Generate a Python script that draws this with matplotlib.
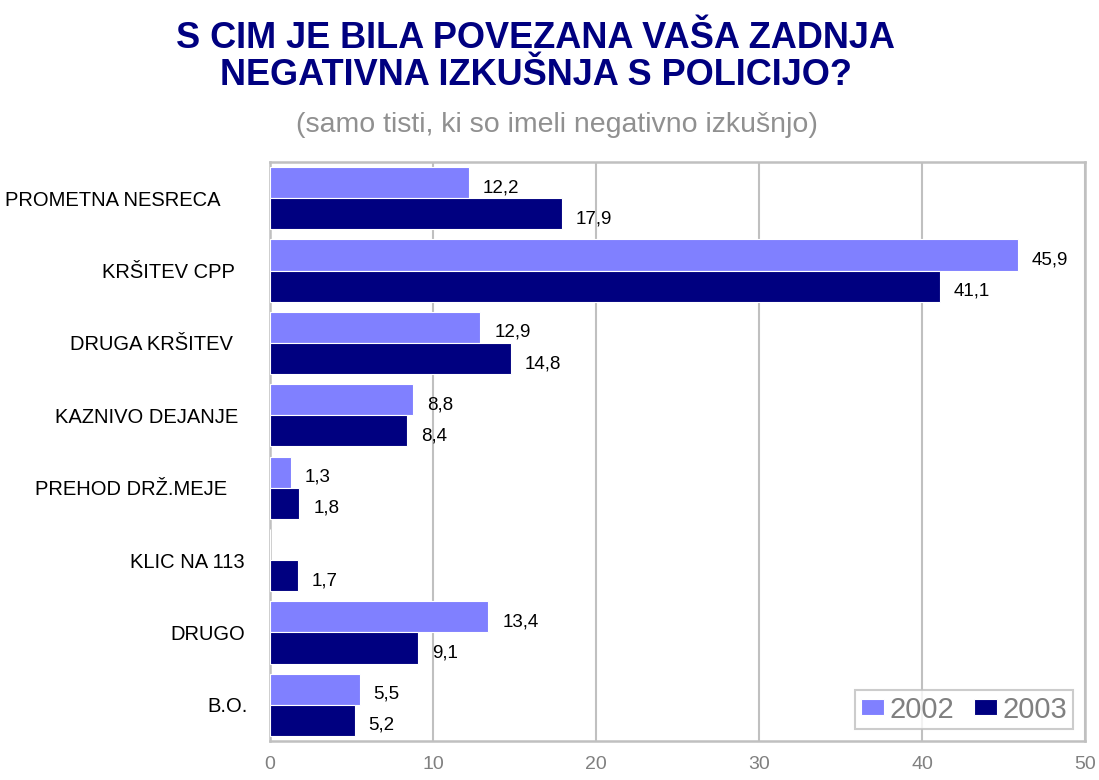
import numpy as np
import matplotlib.pyplot as plt
from matplotlib.transforms import ScaledTranslation

plt.rcParams['font.family'] = ['Liberation Sans', 'DejaVu Sans']

categories = ['PROMETNA NESRECA', 'KRŠITEV CPP', 'DRUGA KRŠITEV', 'KAZNIVO DEJANJE',
              'PREHOD DRŽ.MEJE', 'KLIC NA 113', 'DRUGO', 'B.O.']
values_2002 = [12.2, 45.9, 12.9, 8.8, 1.3, None, 13.4, 5.5]
values_2003 = [17.9, 41.1, 14.8, 8.4, 1.8, 1.7, 9.1, 5.2]
xticks = [0, 10, 20, 30, 40, 50]

# extra left shift of each category label (px), the original labels are not aligned evenly
label_shift = [27, 13, 15, 10, 21, 3, 3, 0]

c2002 = '#8080ff'
c2003 = '#000080'
grey = '#c0c0c0'

fig = plt.figure(figsize=(10.99, 7.8), dpi=100)
ax = fig.add_axes([270 / 1099, 1 - 741 / 780, 815 / 1099, 579 / 780])

y = np.arange(len(categories))
h = 0.43

v02 = [v if v is not None else 0 for v in values_2002]
ax.barh(y - h / 2, v02, height=h, color=c2002, edgecolor='white', linewidth=0.8, label='2002', zorder=3)
ax.barh(y + h / 2, values_2003, height=h, color=c2003, edgecolor='white', linewidth=0.8, label='2003', zorder=3)

for i, v in enumerate(values_2002):
    if v is not None:
        ax.text(v + 0.85, y[i] - h / 2 + 0.07, f'{v:.1f}'.replace('.', ','), va='center', ha='left',
                fontsize=13.5, color='black')
for i, v in enumerate(values_2003):
    ax.text(v + 0.85, y[i] + h / 2 + 0.07, f'{v:.1f}'.replace('.', ','), va='center', ha='left',
            fontsize=13.5, color='black')

ax.set_xlim(0, 50)
ax.set_ylim(len(categories) - 0.5, -0.5)
ax.set_xticks(xticks)
ax.set_xticklabels([str(t) for t in xticks], color='#808080', fontsize=14)
ax.tick_params(axis='x', length=0, pad=11)
ax.set_yticks(y)
ax.set_yticklabels(categories, fontsize=14.5, color='black')
ax.tick_params(axis='y', length=0, pad=16)
for lbl, s in zip(ax.get_yticklabels(), label_shift):
    lbl.set_transform(lbl.get_transform() + ScaledTranslation(-s / 100, 0, fig.dpi_scale_trans))
ax.grid(axis='x', color=grey, linewidth=1.5, zorder=0)
for s in ax.spines.values():
    s.set_color(grey)
    s.set_linewidth(1.8)

leg = ax.legend(loc='lower right', ncol=2, fontsize=21, frameon=True, fancybox=False,
                handlelength=0.8, handleheight=0.5, handletextpad=0.2, columnspacing=0.65,
                borderpad=0.2, borderaxespad=0.4, labelcolor='#808080')
leg.get_frame().set_edgecolor(grey)
leg.get_frame().set_linewidth(1.5)

fig.text(536 / 1099, 1 - 57 / 780, 'S CIM JE BILA POVEZANA VAŠA ZADNJA\nNEGATIVNA IZKUŠNJA S POLICIJO?',
         ha='center', va='center', fontsize=26, fontweight='bold', color='#000080', linespacing=1.05)
fig.text(557 / 1099, 1 - 125 / 780, '(samo tisti, ki so imeli negativno izkušnjo)',
         ha='center', va='center', fontsize=20.5, color='#909090')

fig.savefig('out.png', dpi=100)
